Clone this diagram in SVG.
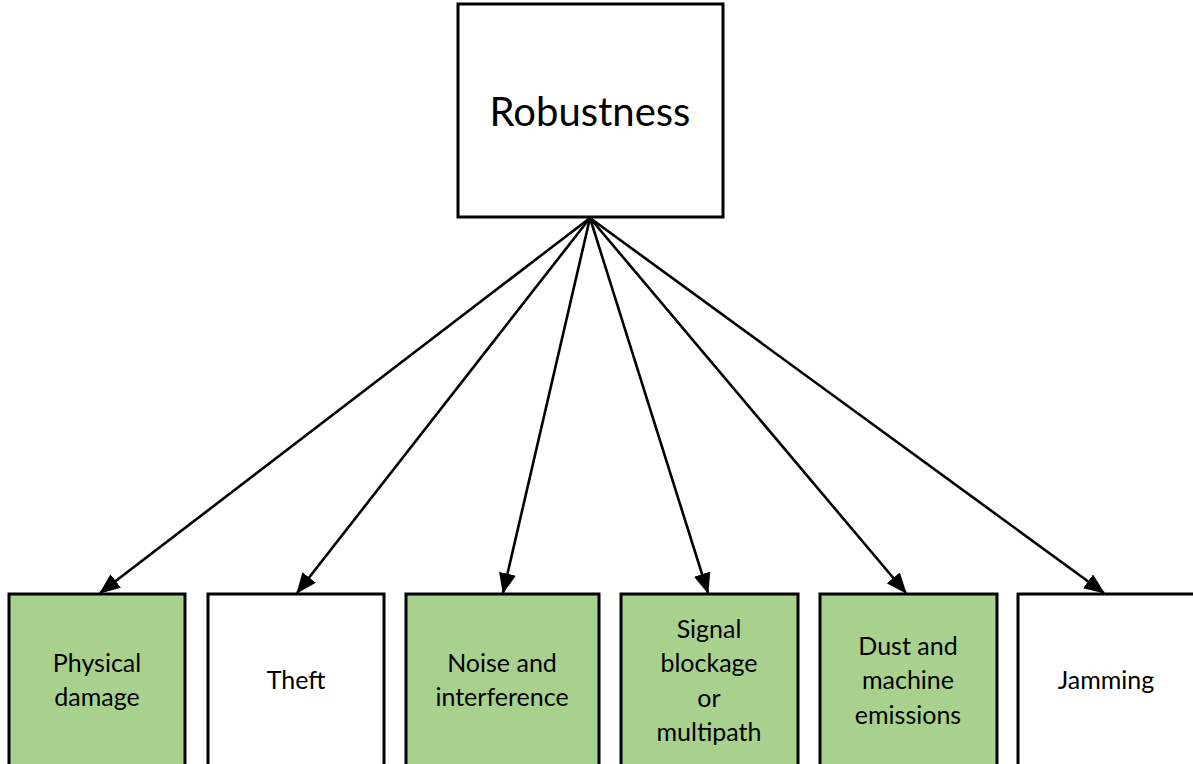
<svg xmlns="http://www.w3.org/2000/svg" width="1193" height="764" viewBox="0 0 1193 764">
<style>
.box{stroke:#000;stroke-width:3}
.g{fill:#A9D18E}
.w{fill:#fff}
text{font-family:Lato,"Open Sans","Liberation Sans",sans-serif;fill:#000;text-anchor:middle}
.t{font-size:25px}
.big{font-size:40px}
.c{stroke:#000;stroke-width:2.6;fill:none;marker-end:url(#ah)}
</style>
<defs>
<marker id="ah" markerWidth="8" markerHeight="6.6" refX="7.6" refY="3.3" orient="auto" markerUnits="strokeWidth">
<path d="M0,0 L8,3.3 L0,6.6 Z" fill="#000"/>
</marker>
</defs>
<rect width="1193" height="764" fill="#fff"/>
<g id="connectors">
<line class="c" x1="590" y1="218" x2="100" y2="593"/>
<line class="c" x1="590" y1="218" x2="297" y2="593"/>
<line class="c" x1="590" y1="218" x2="503" y2="593"/>
<line class="c" x1="590" y1="218" x2="708" y2="593"/>
<line class="c" x1="590" y1="218" x2="906" y2="593"/>
<line class="c" x1="590" y1="218" x2="1104" y2="593"/>
</g>
<g id="robustness">
<rect class="box w" x="458" y="4" width="265" height="213"/>
<text class="big" x="590" y="126">Robustness</text>
</g>
<g id="physical">
<rect class="box g" x="9" y="594" width="176" height="180"/>
<text class="t" x="97" y="672">Physical</text>
<text class="t" x="97" y="706">damage</text>
</g>
<g id="theft">
<rect class="box w" x="208" y="594" width="176" height="180"/>
<text class="t" x="296" y="689">Theft</text>
</g>
<g id="noise">
<rect class="box g" x="406" y="594" width="193" height="180"/>
<text class="t" x="502" y="672">Noise and</text>
<text class="t" x="502" y="706">interference</text>
</g>
<g id="signal">
<rect class="box g" x="621" y="594" width="177" height="180"/>
<text class="t" x="709" y="638">Signal</text>
<text class="t" x="709" y="672">blockage</text>
<text class="t" x="709" y="707">or</text>
<text class="t" x="709" y="741">multipath</text>
</g>
<g id="dust">
<rect class="box g" x="820" y="594" width="177" height="180"/>
<text class="t" x="908" y="655">Dust and</text>
<text class="t" x="908" y="689">machine</text>
<text class="t" x="908" y="724">emissions</text>
</g>
<g id="jamming">
<rect class="box w" x="1018" y="594" width="190" height="180"/>
<text class="t" x="1106" y="689">Jamming</text>
</g>
</svg>
